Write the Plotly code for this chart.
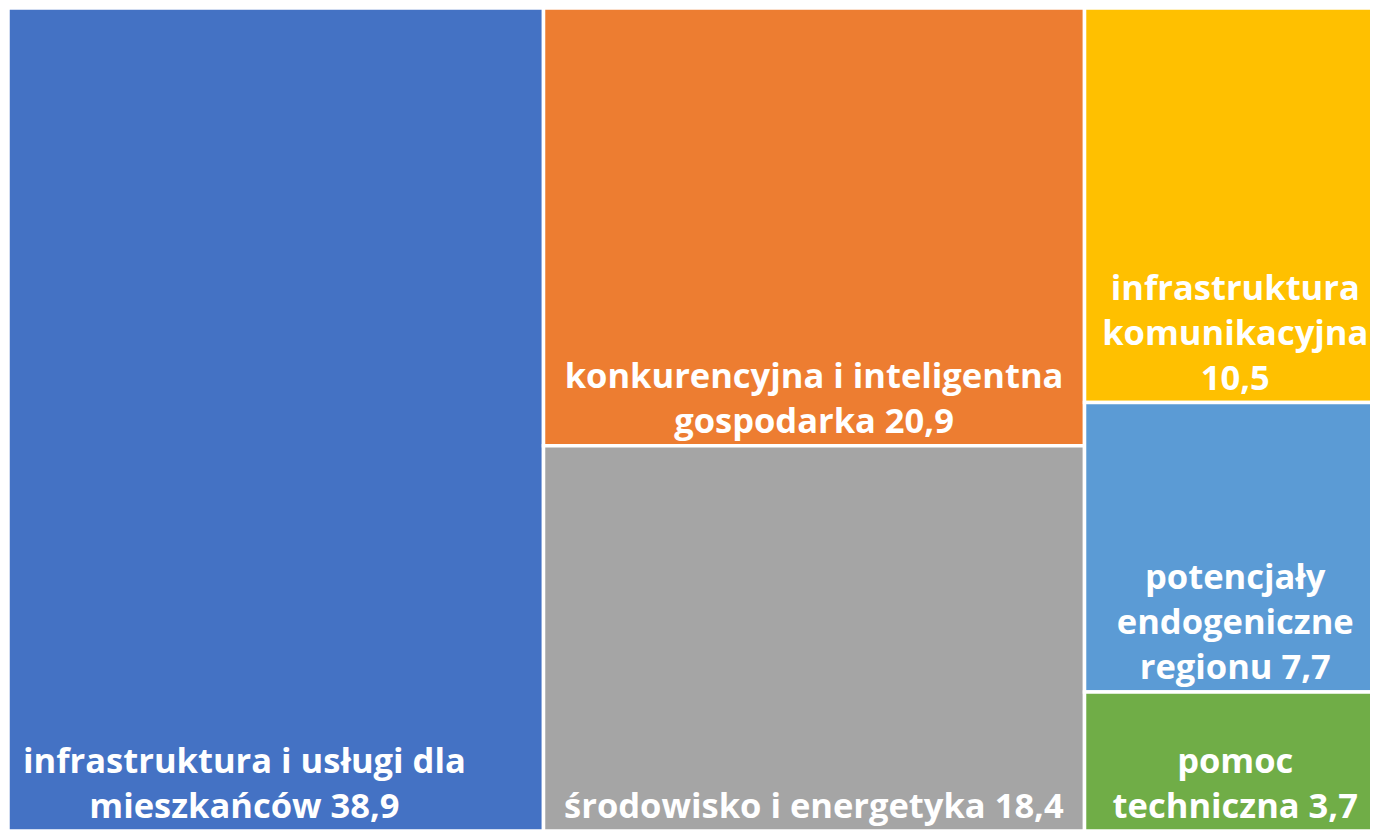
import plotly.graph_objects as go

labels = ["infrastruktura i usługi dla mieszkańców", "konkurencyjna i inteligentna gospodarka",
          "środowisko i energetyka", "infrastruktura komunikacyjna",
          "potencjały endogeniczne regionu", "pomoc techniczna"]
values = [38.9, 20.9, 18.4, 10.5, 7.7, 3.7]
colors = ["#4472C4", "#ED7D31", "#A5A5A5", "#FFC000", "#5B9BD5", "#70AD47"]
display = ["infrastruktura i usługi dla" + "&nbsp;" * 7 + "<br>mieszkańców 38,9" + "&nbsp;" * 7,
           "konkurencyjna i inteligentna<br>gospodarka 20,9",
           "środowisko i energetyka 18,4",
           "infrastruktura<br>komunikacyjna<br>10,5",
           "potencjały<br>endogeniczne<br>regionu 7,7",
           "pomoc<br>techniczna 3,7"]

fig = go.Figure(go.Treemap(
    labels=labels,
    parents=[""] * len(labels),
    values=values,
    text=display,
    texttemplate="<b>%{text}</b>",
    textposition="bottom center",
    textfont=dict(family="Open Sans", size=34.5, color="white"),
    marker=dict(colors=colors, line=dict(color="white", width=3.5),
                pad=dict(t=0, l=0, r=0, b=0)),
    tiling=dict(packing="squarify", pad=0),
    pathbar=dict(visible=False),
    sort=False,
    root=dict(color="white"),
))
fig.update_layout(
    width=1378, height=830,
    margin=dict(l=0, r=0, t=0, b=7),
    paper_bgcolor="white",
)
fig.write_html("out.html")
